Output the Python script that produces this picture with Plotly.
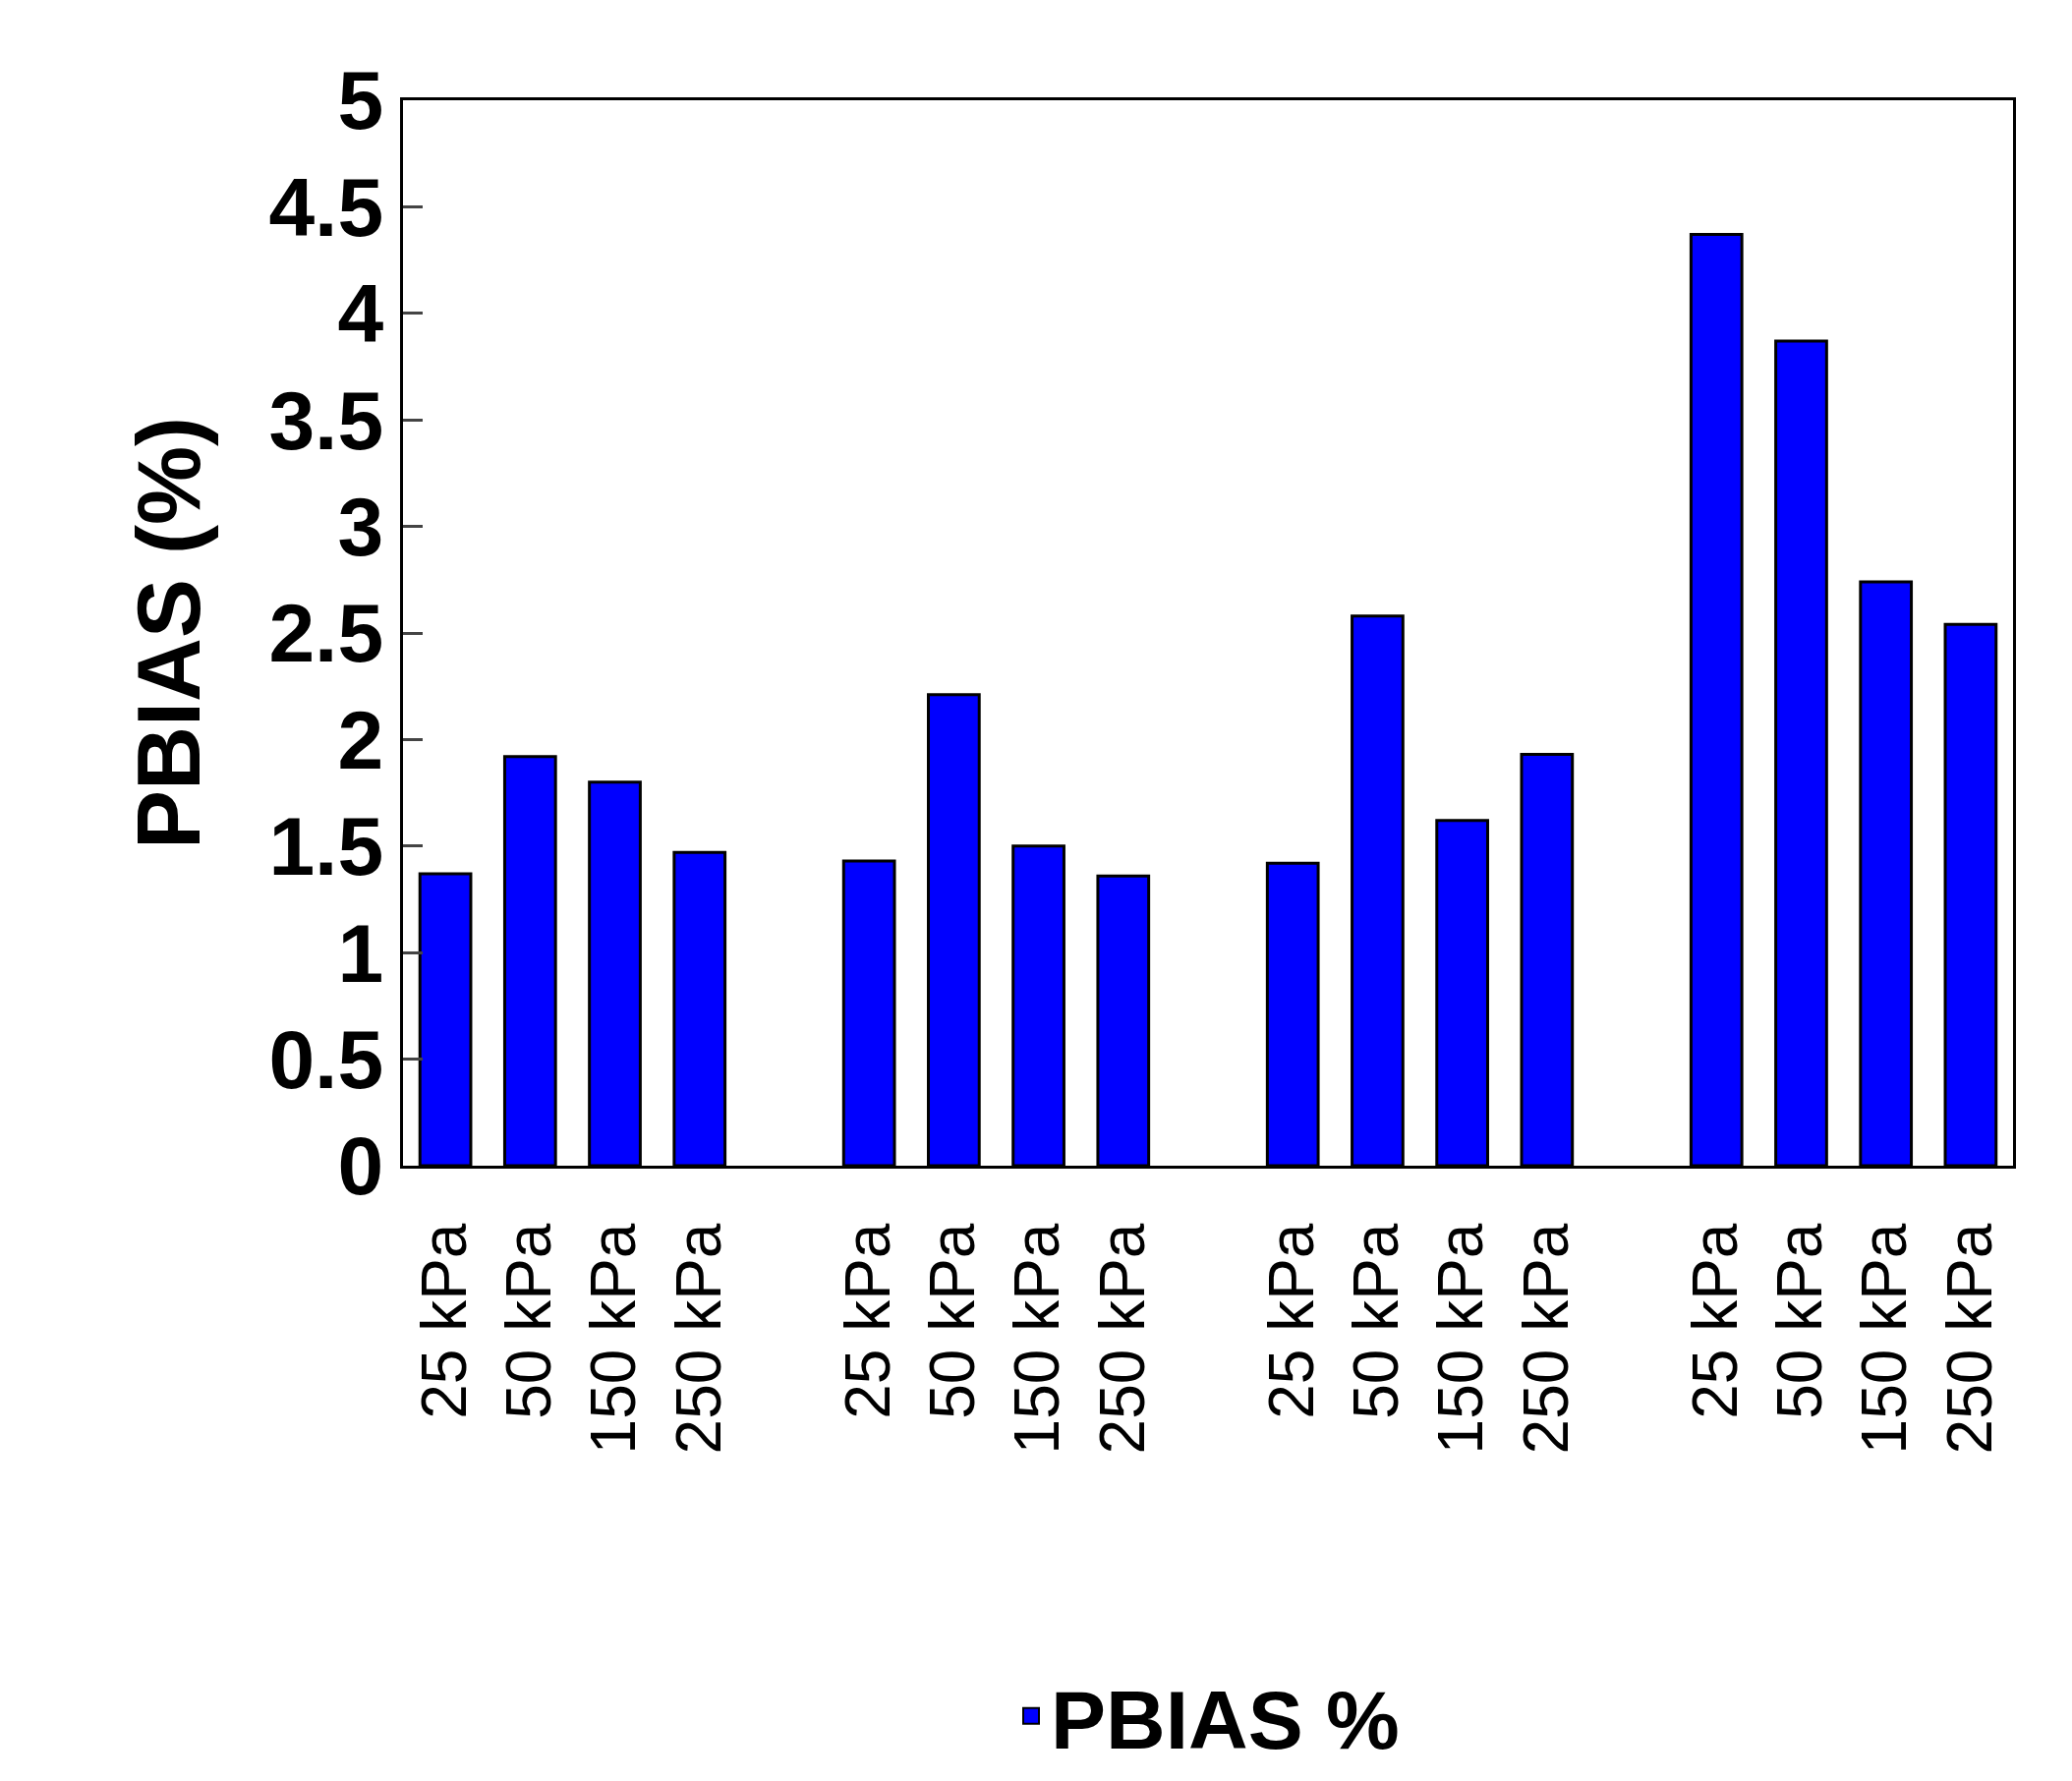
import plotly.graph_objects as go

pressures = ["25 kPa", "50 kPa", "150 kPa", "250 kPa"]
group1 = [1.37, 1.92, 1.80, 1.47]
group2 = [1.43, 2.21, 1.50, 1.36]
group3 = [1.42, 2.58, 1.62, 1.93]
group4 = [4.37, 3.87, 2.74, 2.54]
y_ticks = [0, 0.5, 1, 1.5, 2, 2.5, 3, 3.5, 4, 4.5, 5]
y_tick_text = ["0", "0.5", "1", "1.5", "2", "2.5", "3", "3.5", "4", "4.5", "5"]

xs, ys, labels = [], [], []
for g, vals in enumerate([group1, group2, group3, group4]):
    for i, v in enumerate(vals):
        xs.append(g * 5 + i)
        ys.append(v)
        labels.append(pressures[i])

fig = go.Figure(go.Bar(
    x=xs, y=ys, width=0.6, name="PBIAS %",
    marker=dict(color="#0000FF", line=dict(color="black", width=3)),
    showlegend=False,
))
fig.add_trace(go.Scatter(
    x=[None], y=[None], mode="markers", name="PBIAS %",
    marker=dict(symbol="square", size=52, color="#0000FF", line=dict(color="black", width=2)),
))
fig.update_layout(
    width=2108, height=1812, plot_bgcolor="white", paper_bgcolor="white",
    margin=dict(l=402, r=68, t=94, b=537),
    font=dict(family="Liberation Sans", color="black"),
    legend=dict(orientation="h", x=0.5, xanchor="center", y=-0.46, yanchor="top",
                font=dict(size=84, family="Liberation Sans", weight="bold"),
                itemsizing="trace"),
    xaxis=dict(range=[-0.5, 18.5], tickvals=xs, ticktext=labels, tickangle=-90,
               tickfont=dict(size=64), showline=True, linewidth=3, linecolor="black",
               mirror=True, ticks="outside", ticklen=30, tickcolor="white",
               showgrid=False, zeroline=False),
    yaxis=dict(range=[0, 5], tickvals=y_ticks, ticktext=y_tick_text,
               tickfont=dict(size=84, weight="bold"), ticks="inside", ticklen=20,
               tickwidth=3, showline=True, linewidth=3, linecolor="black", mirror=True,
               showgrid=False, zeroline=False,
               title=dict(text="PBIAS (%)", font=dict(size=90, weight="bold"), standoff=40)),
)
fig.write_html("out.html")
